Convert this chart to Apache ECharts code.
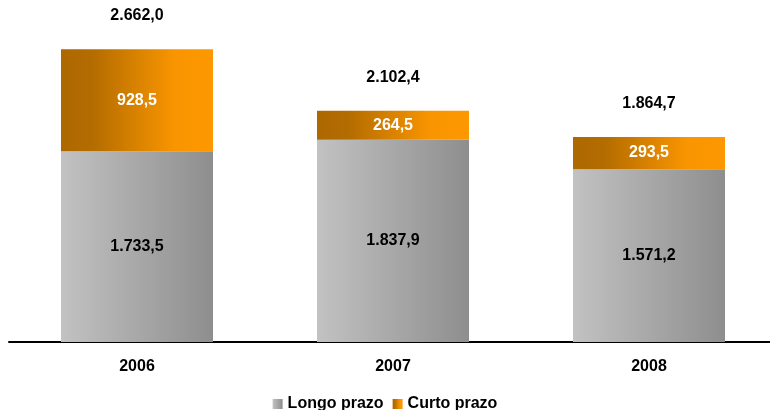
<!DOCTYPE html>
<html>
<head>
<meta charset="utf-8">
<style>html,body{margin:0;padding:0;background:#fff}#c{width:770px;height:410px}</style>
<script src="https://cdn.jsdelivr.net/npm/echarts@6/dist/echarts.min.js"></script>
</head>
<body>
<div id="c"></div>
<script>
var categories = ['2006', '2007', '2008'];
var longoPrazo = [1733.5, 1837.9, 1571.2];
var curtoPrazo = [928.5, 264.5, 293.5];
var seriesNames = ['Longo prazo', 'Curto prazo'];

function fmt(v) {
  var parts = v.toFixed(1).split('.');
  var intPart = parts[0].replace(/\B(?=(\d{3})+(?!\d))/g, '.');
  return intPart + ',' + parts[1];
}
var totals = categories.map(function (c, i) { return +(longoPrazo[i] + curtoPrazo[i]).toFixed(1); });

var FONT = '"Liberation Sans", Arial, sans-serif';
var grayGrad = new echarts.graphic.LinearGradient(0, 0, 1, 0, [
  { offset: 0, color: '#c2c2c2' },
  { offset: 1, color: '#8e8e8e' }
]);
var orangeGrad = new echarts.graphic.LinearGradient(0, 0, 1, 0, [
  { offset: 0, color: '#ad6800' },
  { offset: 0.2, color: '#b36c00' },
  { offset: 0.75, color: '#f99500' },
  { offset: 1, color: '#fd9800' }
]);

var chart = echarts.init(document.getElementById('c'), null, { renderer: 'canvas' });
chart.setOption({
  animation: false,
  grid: { left: 9, width: 768, top: 12, height: 330, containLabel: false, outerBoundsMode: 'none' },
  legend: {
    data: seriesNames,
    top: 391,
    left: 'center',
    itemWidth: 10,
    itemHeight: 10,
    itemGap: 9,
    icon: 'rect',
    textStyle: { fontFamily: FONT, fontWeight: 'bold', fontSize: 16, color: '#000' }
  },
  xAxis: {
    type: 'category',
    data: categories,
    axisLine: { show: true, lineStyle: { color: '#000', width: 2 } },
    axisTick: { show: false },
    axisLabel: { fontFamily: FONT, fontWeight: 'bold', fontSize: 16, color: '#000', margin: 17 }
  },
  yAxis: {
    type: 'value',
    min: 0,
    max: 3000,
    show: false,
    splitLine: { show: false }
  },
  series: [
    {
      name: seriesNames[0],
      type: 'bar',
      stack: 'total',
      barWidth: 152,
      data: longoPrazo,
      itemStyle: { color: grayGrad },
      label: {
        show: true, position: 'inside',
        formatter: function (p) { return fmt(p.value); },
        fontFamily: FONT, fontWeight: 'bold', fontSize: 16, color: '#000'
      }
    },
    {
      name: seriesNames[1],
      type: 'bar',
      stack: 'total',
      barWidth: 152,
      data: curtoPrazo,
      itemStyle: { color: orangeGrad },
      label: {
        show: true, position: 'inside',
        formatter: function (p) { return fmt(p.value); },
        fontFamily: FONT, fontWeight: 'bold', fontSize: 16, color: '#fff'
      }
    },
    {
      name: 'Total',
      type: 'scatter',
      data: totals,
      symbol: 'circle',
      symbolSize: 1,
      itemStyle: { color: 'rgba(0,0,0,0)', opacity: 1 },
      silent: true,
      label: {
        show: true, position: 'top', distance: 25,
        formatter: function (p) { return fmt(p.value); },
        fontFamily: FONT, fontWeight: 'bold', fontSize: 16, color: '#000'
      }
    }
  ]
});
</script>
</body>
</html>
